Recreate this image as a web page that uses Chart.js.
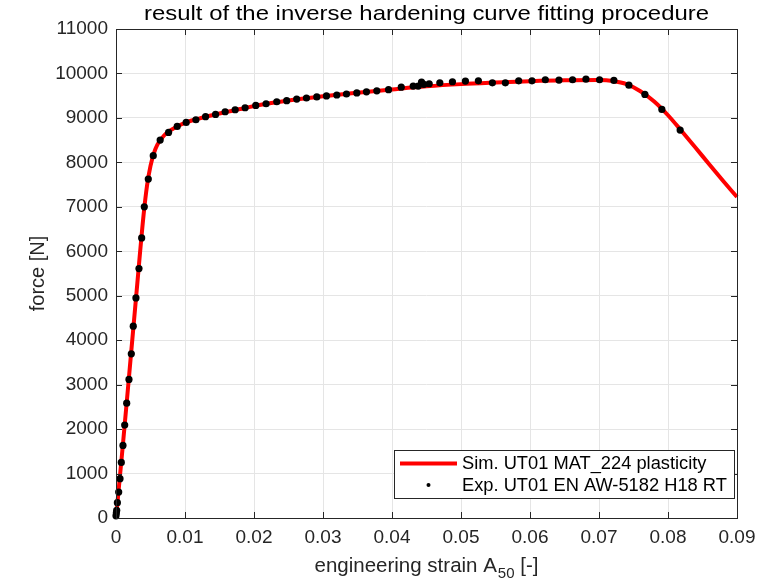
<!DOCTYPE html>
<html>
<head>
<meta charset="utf-8">
<script src="https://cdn.jsdelivr.net/npm/chart.js@4/dist/chart.umd.min.js"></script>
<style>
  html, body { margin: 0; padding: 0; background: #ffffff; }
  #wrap { width: 782px; height: 583px; }
</style>
</head>
<body>
<div id="wrap"><canvas id="c" width="782" height="583"></canvas></div>
<script>
// ---- data ----
const titleText = 'result of the inverse hardening curve fitting procedure';
const xTitleMain = 'engineering strain A';
const xTitleSub = '50';
const xTitleTail = ' [-]';
const yTitle = 'force [N]';
const simLabel = 'Sim. UT01 MAT_224 plasticity';
const expLabel = 'Exp. UT01 EN AW-5182 H18 RT';

const xTicks = [0, 0.01, 0.02, 0.03, 0.04, 0.05, 0.06, 0.07, 0.08, 0.09];
const yTicks = [0, 1000, 2000, 3000, 4000, 5000, 6000, 7000, 8000, 9000, 10000, 11000];

const simStrain = [0, 0.0010, 0.0020, 0.0030, 0.0040, 0.0045, 0.0050, 0.0055, 0.0060, 0.0070,
  0.0080, 0.0090, 0.0100, 0.0120, 0.0150, 0.0180, 0.0210, 0.0250, 0.0300, 0.0350,
  0.0400, 0.0450, 0.0500, 0.0550, 0.0600, 0.0650, 0.0700, 0.0720, 0.0740, 0.0760,
  0.0780, 0.0800, 0.0820, 0.0840, 0.0860, 0.0880, 0.0900];
const simForce = [0, 1650, 3380, 5120, 6820, 7480, 7920, 8210, 8400, 8610,
  8730, 8820, 8890, 8985, 9100, 9200, 9295, 9390, 9485, 9565,
  9640, 9710, 9760, 9795, 9825, 9845, 9850, 9830, 9760, 9600,
  9370, 9060, 8700, 8330, 7950, 7580, 7220];

const expStrain = [0.00000, 0.00005, 0.00010, 0.00020, 0.00039, 0.00058, 0.00077, 0.00101, 0.00126, 0.00155,
  0.00188, 0.00222, 0.00250, 0.00289, 0.00333, 0.00372, 0.00410, 0.00468, 0.00540, 0.00640,
  0.00762, 0.00887, 0.01017, 0.01158, 0.01298, 0.01443, 0.01582, 0.01727, 0.01871, 0.02026,
  0.02175, 0.02330, 0.02474, 0.02619, 0.02760, 0.02910, 0.03050, 0.03200, 0.03340, 0.03490,
  0.03630, 0.03780, 0.03950, 0.04134, 0.04307, 0.04380, 0.04428, 0.04461, 0.04539, 0.04693,
  0.04876, 0.05064, 0.05252, 0.05455, 0.05643, 0.05836, 0.06029, 0.06222, 0.06420, 0.06617,
  0.06811, 0.07008, 0.07216, 0.07433, 0.07665, 0.07911, 0.08176];
const expForce = [50, 110, 170, 344, 584, 884, 1251, 1633, 2090, 2584,
  3117, 3692, 4315, 4951, 5611, 6300, 7000, 7625, 8150, 8501,
  8674, 8809, 8899, 8959, 9027, 9079, 9139, 9184, 9229, 9281,
  9319, 9364, 9387, 9423, 9448, 9472, 9494, 9515, 9538, 9562,
  9586, 9610, 9634, 9692, 9715, 9715, 9805, 9753, 9768, 9790,
  9813, 9828, 9835, 9790, 9790, 9835, 9835, 9858, 9850, 9858,
  9872, 9858, 9843, 9737, 9528, 9191, 8726];

// ---- styling ----
const FONT = "'Liberation Sans', Arial, Helvetica, sans-serif";
const AX = '#262626';
const GRID = '#e5e5e5';

const simData = simStrain.map((x, i) => ({x: x, y: simForce[i]}));
const expData = expStrain.map((x, i) => ({x: x, y: expForce[i]}));

const decorPlugin = {
  id: 'decor',
  afterDraw(chart) {
    const ctx = chart.ctx;
    const a = chart.chartArea;
    const xs = chart.scales.x, ys = chart.scales.y;
    ctx.save();
    // frame
    ctx.strokeStyle = AX;
    ctx.lineWidth = 1;
    ctx.strokeRect(Math.round(a.left) + 0.5, Math.round(a.top) + 0.5,
      Math.round(a.right - a.left), Math.round(a.bottom - a.top));
    // inward ticks
    const tl = 6;
    ctx.beginPath();
    xTicks.forEach(v => {
      const px = Math.round(xs.getPixelForValue(v)) + 0.5;
      ctx.moveTo(px, a.bottom); ctx.lineTo(px, a.bottom - tl);
      ctx.moveTo(px, a.top); ctx.lineTo(px, a.top + tl);
    });
    yTicks.forEach(v => {
      const py = Math.round(ys.getPixelForValue(v)) + 0.5;
      ctx.moveTo(a.left, py); ctx.lineTo(a.left + tl, py);
      ctx.moveTo(a.right, py); ctx.lineTo(a.right - tl, py);
    });
    ctx.stroke();

    // title (stretched horizontally to the reference width)
    const cx = (a.left + a.right) / 2;
    ctx.save();
    ctx.fillStyle = '#000000';
    ctx.font = '21px ' + FONT;
    const tw = ctx.measureText(titleText).width;
    const sc = 565 / tw;
    ctx.translate(cx, 14);
    ctx.scale(sc, 1);
    ctx.textAlign = 'center';
    ctx.textBaseline = 'middle';
    ctx.fillText(titleText, 0, 0);
    ctx.restore();

    // x title with subscript
    ctx.fillStyle = AX;
    const mainF = '20.5px ' + FONT, subF = '15px ' + FONT;
    ctx.font = mainF; const w1 = ctx.measureText(xTitleMain).width;
    const w3 = ctx.measureText(xTitleTail).width;
    ctx.font = subF; const w2 = ctx.measureText(xTitleSub).width;
    let sx = cx - (w1 + w2 + 1 + w3) / 2;
    const by = 572;
    ctx.textAlign = 'left';
    ctx.textBaseline = 'alphabetic';
    ctx.font = mainF; ctx.fillText(xTitleMain, sx, by); sx += w1;
    ctx.font = subF; ctx.fillText(xTitleSub, sx + 1, by + 6); sx += w2 + 1;
    ctx.font = mainF; ctx.fillText(xTitleTail, sx, by);

    // y title
    ctx.save();
    ctx.translate(38, (a.top + a.bottom) / 2);
    ctx.rotate(-Math.PI / 2);
    ctx.textAlign = 'center';
    ctx.textBaseline = 'middle';
    ctx.font = '20px ' + FONT;
    ctx.fillText(yTitle, 0, 0);
    ctx.restore();

    // legend
    const lx = 394.5, ly = 450.5, lw = 340, lh = 48;
    ctx.fillStyle = '#ffffff';
    ctx.fillRect(lx, ly, lw, lh);
    ctx.strokeStyle = AX;
    ctx.lineWidth = 1;
    ctx.strokeRect(lx, ly, lw, lh);
    ctx.strokeStyle = '#ff0000';
    ctx.lineWidth = 4;
    ctx.beginPath();
    ctx.moveTo(400, 463.5); ctx.lineTo(457, 463.5);
    ctx.stroke();
    ctx.fillStyle = '#000000';
    ctx.beginPath();
    ctx.arc(428.5, 485, 2, 0, Math.PI * 2);
    ctx.fill();
    ctx.fillStyle = '#000000';
    ctx.font = '18.3px ' + FONT;
    ctx.textAlign = 'left';
    ctx.textBaseline = 'middle';
    ctx.fillText(simLabel, 462, 464);
    ctx.fillText(expLabel, 462, 486);
    ctx.restore();
  }
};

new Chart(document.getElementById('c'), {
  type: 'scatter',
  data: {
    datasets: [
      {
        label: expLabel,
        data: expData,
        showLine: false,
        pointRadius: 3.6,
        pointHoverRadius: 3.6,
        pointBackgroundColor: '#000000',
        pointBorderColor: '#000000',
        pointBorderWidth: 0,
        order: 0,
        clip: 8
      },
      {
        label: simLabel,
        data: simData,
        showLine: true,
        borderColor: '#ff0000',
        borderWidth: 4,
        pointRadius: 0,
        pointHoverRadius: 0,
        fill: false,
        cubicInterpolationMode: 'monotone',
        order: 1,
        clip: 4
      }
    ]
  },
  options: {
    responsive: false,
    animation: false,
    devicePixelRatio: 1,
    layout: { padding: { top: 29, right: 45, left: 0, bottom: 0 } },
    plugins: {
      legend: { display: false },
      title: { display: false },
      tooltip: { enabled: false }
    },
    scales: {
      x: {
        type: 'linear',
        min: 0, max: 0.09,
        afterFit(s) { s.height = 65; },
        afterBuildTicks(s) { s.ticks = xTicks.map(v => ({value: v})); },
        ticks: {
          color: AX,
          font: { family: FONT, size: 19 },
          padding: 8,
          maxRotation: 0,
          autoSkip: false,
          callback: v => String(+(+v).toFixed(2))
        },
        grid: { color: GRID, drawTicks: false, lineWidth: 1 },
        border: { display: false }
      },
      y: {
        type: 'linear',
        min: 0, max: 11000,
        afterFit(s) { s.width = 116; },
        afterBuildTicks(s) { s.ticks = yTicks.map(v => ({value: v})); },
        ticks: {
          color: AX,
          font: { family: FONT, size: 19 },
          padding: 8,
          autoSkip: false,
          callback: v => String(v)
        },
        grid: { color: GRID, drawTicks: false, lineWidth: 1 },
        border: { display: false }
      }
    }
  },
  plugins: [decorPlugin]
});
</script>
</body>
</html>
